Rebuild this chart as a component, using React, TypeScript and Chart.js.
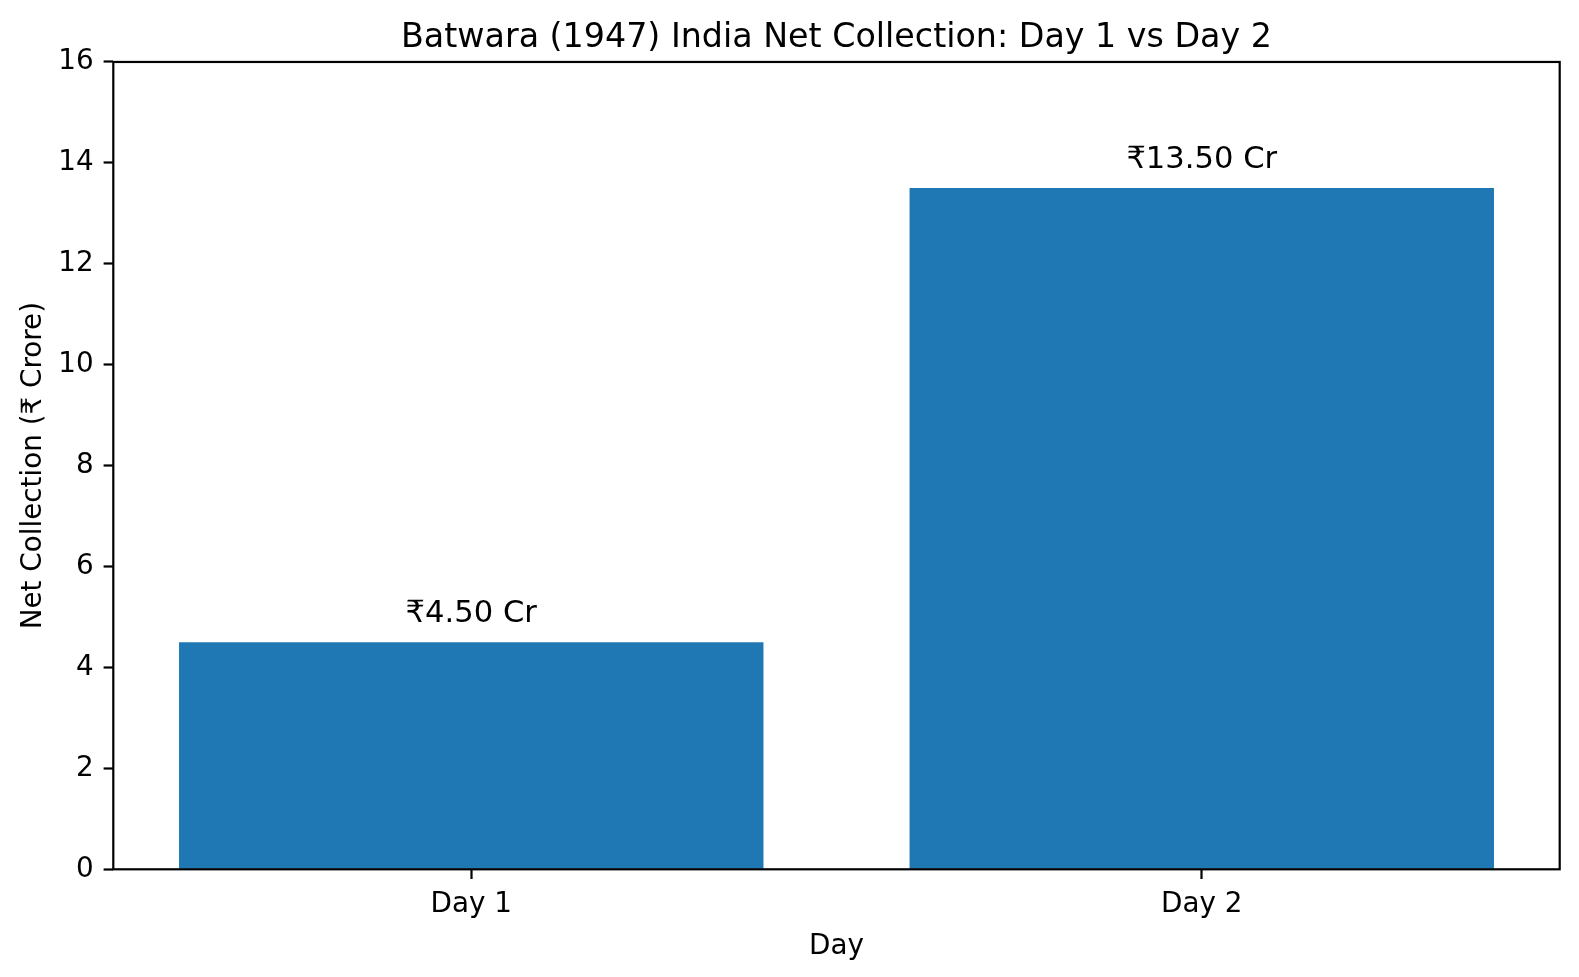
import React, { useEffect, useRef } from "react";
import { Chart, registerables } from "chart.js";

Chart.register(...registerables);

const categories = ["Day 1", "Day 2"];
const netCollection = [4.5, 13.5];
const valueLabels = ["₹4.50 Cr", "₹13.50 Cr"];
const yTicks = [0, 2, 4, 6, 8, 10, 12, 14, 16];

const FONT = "'DejaVu Sans', sans-serif";

// bar value labels above each bar
const barLabels = {
  id: "barLabels",
  afterDatasetsDraw(chart: any) {
    const { ctx } = chart;
    const meta = chart.getDatasetMeta(0);
    ctx.save();
    ctx.fillStyle = "#000";
    ctx.font = `30.6px ${FONT}`;
    ctx.textAlign = "center";
    ctx.textBaseline = "alphabetic";
    meta.data.forEach((bar: any, i: number) => {
      ctx.fillText(valueLabels[i], bar.x, bar.y - 20);
    });
    ctx.restore();
  },
};

// matplotlib style frame around the plot area
const frame = {
  id: "frame",
  afterDraw(chart: any) {
    const { ctx, chartArea } = chart;
    ctx.save();
    ctx.strokeStyle = "#000";
    ctx.lineWidth = 2.2;
    ctx.strokeRect(
      chartArea.left,
      chartArea.top,
      chartArea.right - chartArea.left,
      chartArea.bottom - chartArea.top
    );
    ctx.restore();
  },
};

const App = () => {
  const chartRef = useRef<HTMLCanvasElement>(null);
  const chartInstanceRef = useRef<Chart | null>(null);

  useEffect(() => {
    document.body.style.margin = "0";
    if (chartRef.current && !chartInstanceRef.current) {
      const context = chartRef.current.getContext("2d");
      if (context) {
        chartInstanceRef.current = new Chart(context, {
          type: "bar",
          data: {
            datasets: [
              {
                label: "Net Collection",
                data: netCollection.map((v, i) => ({ x: i, y: v })),
                backgroundColor: "#1f77b4",
                borderWidth: 0,
                barPercentage: 0.8,
                categoryPercentage: 1,
              },
            ],
          },
          options: {
            animation: false,
            responsive: true,
            maintainAspectRatio: false,
            layout: {
              padding: { left: 0, right: 19.3, top: 0, bottom: 0 },
            },
            scales: {
              x: {
                type: "linear",
                min: -0.49,
                max: 1.49,
                offset: false,
                afterFit: (scale: any) => {
                  scale.height = 107.7;
                },
                afterBuildTicks: (axis: any) => {
                  axis.ticks = categories.map((_, i) => ({ value: i }));
                },
                grid: {
                  offset: false,
                  drawOnChartArea: false,
                  drawTicks: true,
                  tickLength: 9.7,
                  tickWidth: 2.2,
                  tickColor: "#000",
                },
                border: { display: false },
                ticks: {
                  color: "#000",
                  padding: 9,
                  maxRotation: 0,
                  autoSkip: false,
                  font: { family: FONT, size: 27.8 },
                  callback: (value: any) => categories[value] ?? "",
                },
                title: {
                  display: true,
                  text: "Day",
                  color: "#000",
                  font: { family: FONT, size: 27.8 },
                  padding: { top: 0, bottom: 14 },
                },
              },
              y: {
                min: 0,
                max: 16,
                afterFit: (scale: any) => {
                  scale.width = 113.3;
                },
                afterBuildTicks: (axis: any) => {
                  axis.ticks = yTicks.map((v) => ({ value: v }));
                },
                grid: {
                  drawOnChartArea: false,
                  drawTicks: true,
                  tickLength: 9.7,
                  tickWidth: 2.2,
                  tickColor: "#000",
                },
                border: { display: false },
                ticks: {
                  color: "#000",
                  padding: 10,
                  font: { family: FONT, size: 27.8 },
                },
                title: {
                  display: true,
                  text: "Net Collection (₹ Crore)",
                  color: "#000",
                  font: { family: FONT, size: 27.8 },
                  padding: { top: 17, bottom: 0 },
                },
              },
            },
            plugins: {
              legend: { display: false },
              tooltip: { enabled: false },
              title: {
                display: true,
                fullSize: false,
                text: "Batwara (1947) India Net Collection: Day 1 vs Day 2",
                color: "#000",
                font: { family: FONT, size: 33.3, weight: "normal" },
                padding: { top: 18, bottom: 4 },
              },
            },
          },
          plugins: [barLabels, frame],
        });
      }
    }
    return () => {
      if (chartInstanceRef.current) {
        chartInstanceRef.current.destroy();
        chartInstanceRef.current = null;
      }
    };
  }, []);

  return (
    <div style={{ width: "1579px", height: "977px", background: "#fff" }}>
      <canvas ref={chartRef} />
    </div>
  );
};

export default App;
